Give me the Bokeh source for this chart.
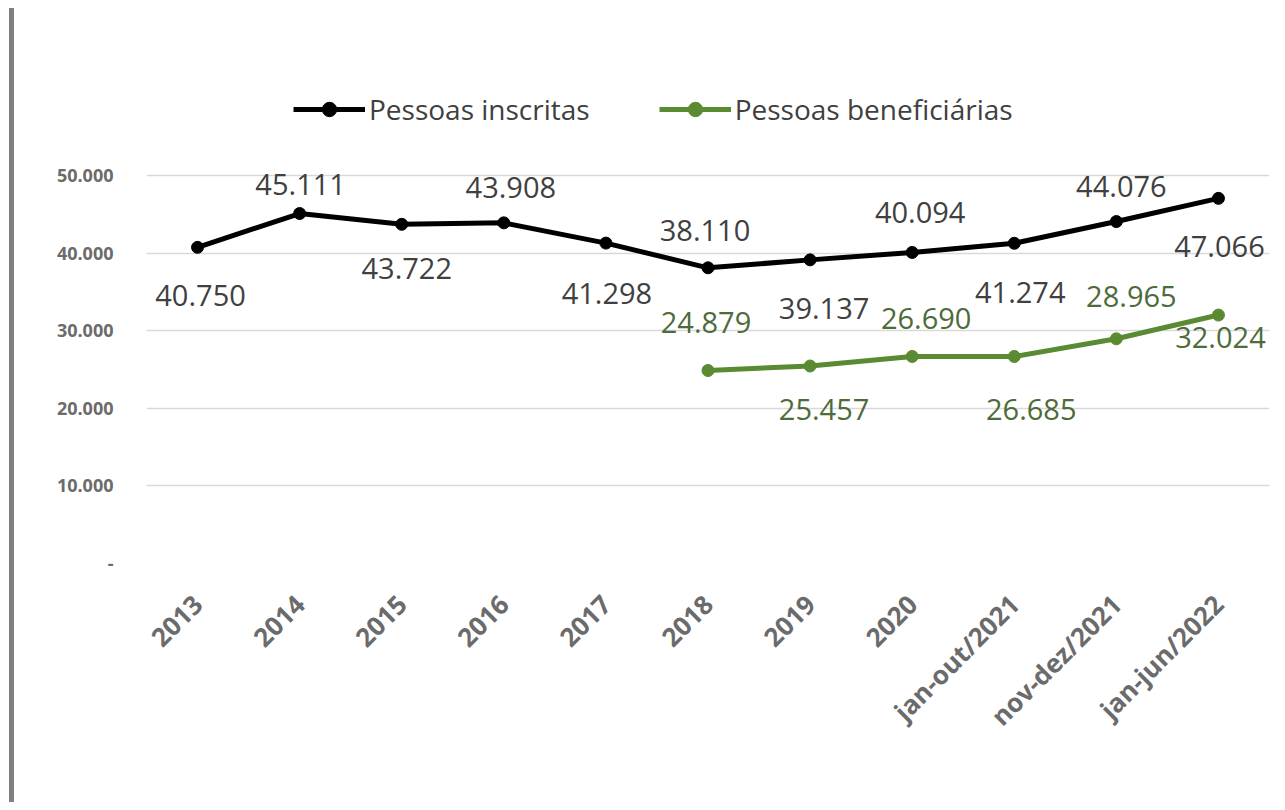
import math
from bokeh.plotting import figure
from bokeh.models import (ColumnDataSource, FactorRange, Range1d, FixedTicker,
                          Legend, LegendItem)
from bokeh.core.properties import value
from bokeh.embed import file_html
from bokeh.resources import INLINE

# ---- data ----
categories = ["2013", "2014", "2015", "2016", "2017", "2018", "2019", "2020",
              "jan-out/2021", "nov-dez/2021", "jan-jun/2022"]
inscritas = [40750, 45111, 43722, 43908, 41298, 38110, 39137, 40094, 41274, 44076, 47066]
benef_categories = ["2018", "2019", "2020", "jan-out/2021", "nov-dez/2021", "jan-jun/2022"]
beneficiarias = [24879, 25457, 26690, 26685, 28965, 32024]
y_ticks = [0, 10000, 20000, 30000, 40000, 50000]

# label placement (screen px offsets)
insc_dx = [3, 1, 5, 7, 1, -3, 14, 8, 6, 5, 1]
insc_dy = [48, -29, 44, -35, 50, -37, 49, -40, 49, -35, 48]
ben_dx = [-2, 14, 14, 17, 15, 2]
ben_dy = [-48, 43, -38, 53, -42, 22]

def fmt(v):
    return f"{v:,}".replace(",", ".")

BLACK = "#000000"
GREEN = "#5a8a32"
FONT = "Open Sans"

W, H = 1264, 794
p = figure(width=W, height=H, x_range=FactorRange(*categories),
           y_range=Range1d(0, 62000), output_backend="svg", toolbar_location=None,
           min_border_left=132, min_border_right=9, min_border_top=74,
           min_border_bottom=239)
p.styles = {"border-left": "5px solid #7f7f7f", "margin-left": "9px",
            "margin-top": "8px"}
p.outline_line_color = None
p.background_fill_color = "white"
p.border_fill_color = "white"

# axes
p.yaxis.ticker = FixedTicker(ticks=y_ticks)
p.yaxis.major_label_overrides = {t: ("-" if t == 0 else fmt(t)) for t in y_ticks}
p.yaxis.axis_line_color = None
p.yaxis.major_tick_line_color = None
p.yaxis.minor_tick_line_color = None
p.yaxis.major_label_standoff = 27
p.yaxis.major_label_text_font = FONT
p.yaxis.major_label_text_font_size = "18px"
p.yaxis.major_label_text_font_style = "bold"
p.yaxis.major_label_text_color = "#6b6b6b"

p.xaxis.axis_line_color = None
p.xaxis.major_tick_line_color = None
p.xaxis.major_label_orientation = math.pi / 4
p.xaxis.major_label_standoff = 30
p.xaxis.major_label_text_font = FONT
p.xaxis.major_label_text_font_size = "26px"
p.xaxis.major_label_text_font_style = "bold"
p.xaxis.major_label_text_color = "#6b6b6b"

p.xgrid.grid_line_color = None
p.ygrid.ticker = FixedTicker(ticks=y_ticks)
p.ygrid.grid_line_color = "#d9d9d9"
p.ygrid.grid_line_width = 1.5

src_i = ColumnDataSource(dict(x=categories, y=inscritas,
                              lbl=[fmt(v) for v in inscritas], dx=insc_dx, dy=insc_dy))
src_b = ColumnDataSource(dict(x=benef_categories, y=beneficiarias,
                              lbl=[fmt(v) for v in beneficiarias], dx=ben_dx, dy=ben_dy))

l1 = p.line("x", "y", source=src_i, line_color=BLACK, line_width=5)
m1 = p.scatter("x", "y", source=src_i, size=12, color=BLACK)
l2 = p.line("x", "y", source=src_b, line_color=GREEN, line_width=5)
m2 = p.scatter("x", "y", source=src_b, size=12, color=GREEN)

p.text("x", "y", text="lbl", source=src_i, x_offset="dx", y_offset="dy",
       text_align="center", text_baseline="middle", text_font=value(FONT),
       text_font_size="29px", text_color="#404040")
p.text("x", "y", text="lbl", source=src_b, x_offset="dx", y_offset="dy",
       text_align="center", text_baseline="middle", text_font=value(FONT),
       text_font_size="29px", text_color="#4e6b3a")

legend = Legend(items=[LegendItem(label="Pessoas inscritas", renderers=[l1, m1]),
                       LegendItem(label="Pessoas beneficiárias", renderers=[l2, m2])],
                orientation="horizontal", location=(147, 435),
                glyph_width=72, glyph_height=36, label_height=36, label_standoff=4,
                spacing=69, padding=0, margin=0, border_line_color=None,
                background_fill_alpha=0,
                label_text_font=FONT, label_text_font_size="28px",
                label_text_color="#404040")
p.add_layout(legend)

open("out.html", "w").write(file_html(p, INLINE))
